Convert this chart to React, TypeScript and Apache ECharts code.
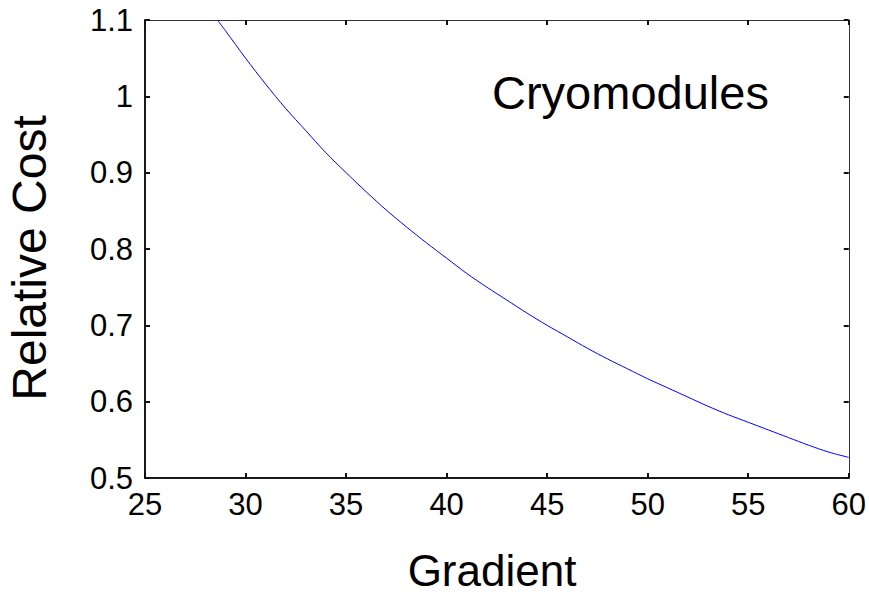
import React, { useEffect, useRef } from "react";
import * as echarts from "echarts";

// Accelerating gradient (MV/m) against relative cryomodule cost
const gradient = [28.6, 29, 30, 31, 32, 33, 34, 35, 36, 37, 38, 39, 40, 41, 42, 43, 44, 45, 46, 47, 48, 49, 50, 51, 52, 53, 54, 55, 56, 57, 58, 59, 60];
const relativeCost = [1.1, 1.086, 1.05, 1.016, 0.984, 0.955, 0.926, 0.9, 0.875, 0.851, 0.829, 0.808, 0.788, 0.768, 0.75, 0.733, 0.716, 0.7, 0.685, 0.67, 0.656, 0.643, 0.63, 0.618, 0.606, 0.594, 0.583, 0.573, 0.563, 0.553, 0.543, 0.534, 0.527];

const xTicks = [25, 30, 35, 40, 45, 50, 55, 60];
const yTicks = [0.5, 0.6, 0.7, 0.8, 0.9, 1, 1.1];

const FONT = "'Liberation Sans', Arial, Helvetica, sans-serif";

export default function App() {
  const ref = useRef<HTMLDivElement>(null);

  useEffect(() => {
    if (!ref.current) return;
    const chart = echarts.init(ref.current, undefined, { renderer: "svg" });

    const tickStyle = { show: true, inside: true, length: 5, lineStyle: { color: "#111", width: 2 } };
    const xBase = {
      type: "value" as const,
      min: xTicks[0],
      max: xTicks[xTicks.length - 1],
      interval: 5,
      splitLine: { show: false },
      axisTick: tickStyle,
    };
    const yBase = {
      type: "value" as const,
      min: yTicks[0],
      max: yTicks[yTicks.length - 1],
      interval: 0.1,
      splitLine: { show: false },
      axisTick: tickStyle,
    };

    chart.setOption({
      animation: false,
      backgroundColor: "#ffffff",
      grid: { left: 145, right: 20, top: 20, bottom: 116, containLabel: false },
      xAxis: [
        {
          ...xBase,
          position: "bottom",
          axisLine: { show: true, onZero: false, lineStyle: { color: "#1a1a1a", width: 2 } },
          axisLabel: { color: "#000", fontSize: 31, fontFamily: FONT, margin: 11 },
        },
        {
          ...xBase,
          position: "top",
          axisLine: { show: true, onZero: false, lineStyle: { color: "#333", width: 1 } },
          axisLabel: { show: false },
        },
      ],
      yAxis: [
        {
          ...yBase,
          position: "left",
          axisLine: { show: true, onZero: false, lineStyle: { color: "#1a1a1a", width: 2 } },
          axisLabel: { color: "#000", fontSize: 31, fontFamily: FONT, margin: 12 },
        },
        {
          ...yBase,
          position: "right",
          axisLine: { show: true, onZero: false, lineStyle: { color: "#333", width: 1 } },
          axisLabel: { show: false },
        },
      ],
      graphic: [
        {
          type: "text",
          left: 492,
          top: 69,
          style: { text: "Cryomodules", fontSize: 47, fontFamily: FONT, fill: "#000" },
        },
        {
          type: "text",
          x: 492,
          y: 570,
          style: { text: "Gradient", fontSize: 44, fontFamily: FONT, fill: "#000", align: "center", verticalAlign: "middle" },
        },
        {
          type: "text",
          x: 29,
          y: 258,
          rotation: Math.PI / 2,
          style: { text: "Relative Cost", fontSize: 48, fontFamily: FONT, fill: "#000", align: "center", verticalAlign: "middle" },
        },
      ],
      series: [
        {
          type: "line",
          xAxisIndex: 0,
          yAxisIndex: 0,
          data: gradient.map((g, i) => [g, relativeCost[i]]),
          showSymbol: false,
          symbol: "none",
          smooth: 0.3,
          lineStyle: { color: "#0000ff", width: 1 },
        },
      ],
    });

    return () => chart.dispose();
  }, []);

  return (
    <div
      ref={ref}
      style={{ position: "fixed", left: 0, top: 0, width: 869, height: 594, background: "#fff" }}
    />
  );
}
